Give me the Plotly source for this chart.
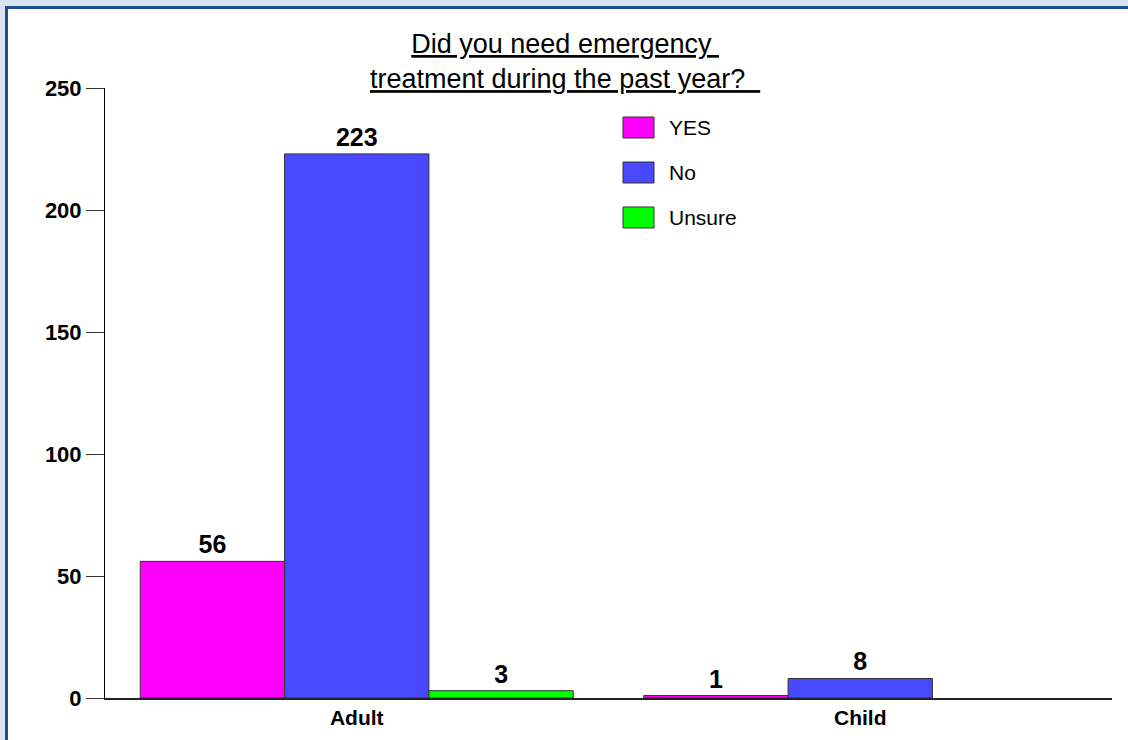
import plotly.graph_objects as go

# Survey answers by respondent type
categories = ["Adult", "Child"]
series_names = ["YES", "No", "Unsure"]
yes_counts = [56, 1]
no_counts = [223, 8]
unsure_counts = [3, None]
series_values = [yes_counts, no_counts, unsure_counts]
series_colors = ["#ff00ff", "#4848ff", "#00ff00"]

y_ticks = [0, 50, 100, 150, 200, 250]

FONT = "Arial, 'Liberation Sans', sans-serif"

# Plot-area geometry in pixels (used to place the frame and legend)
W, H = 1128, 740
L, R, T, B = 105, 16, 88, 42
PW, PH = W - L - R, H - T - B


def px_x(x):
    return (x - L) / PW


def px_y(y):
    return (H - B - y) / PH


fig = go.Figure()

for name, vals, color in zip(series_names, series_values, series_colors):
    fig.add_trace(go.Bar(
        x=categories,
        y=vals,
        name=name,
        marker=dict(color=color, line=dict(color="#333333", width=1)),
        texttemplate="%{y}",
        textposition="outside",
        textfont=dict(family=FONT, size=25, color="black", weight="bold"),
        cliponaxis=False,
        showlegend=False,
    ))

shapes = []
annotations = []

# Page frame: pale blue margin on the top and left, dark blue border line
PALE = "#dbe5f1"
EDGE = "#1f4e8a"
shapes.append(dict(type="rect", xref="paper", yref="paper", layer="below",
                   x0=px_x(-20), x1=px_x(1200), y0=px_y(6), y1=px_y(-20),
                   fillcolor=PALE, line=dict(width=0)))
shapes.append(dict(type="rect", xref="paper", yref="paper", layer="below",
                   x0=px_x(-20), x1=px_x(5), y0=px_y(800), y1=px_y(-20),
                   fillcolor=PALE, line=dict(width=0)))
shapes.append(dict(type="line", xref="paper", yref="paper", layer="below",
                   x0=px_x(5.5), x1=px_x(1200), y0=px_y(7.5), y1=px_y(7.5),
                   line=dict(color=EDGE, width=3)))
shapes.append(dict(type="line", xref="paper", yref="paper", layer="below",
                   x0=px_x(6.5), x1=px_x(6.5), y0=px_y(800), y1=px_y(6),
                   line=dict(color=EDGE, width=3)))

# Legend: swatches and labels
legend_rows = [127.5, 172.5, 217.5]
for name, color, yc in zip(series_names, series_colors, legend_rows):
    shapes.append(dict(
        type="rect", xref="paper", yref="paper",
        x0=px_x(623), x1=px_x(654), y0=px_y(yc + 10.5), y1=px_y(yc - 10.5),
        fillcolor=color, line=dict(color="#333333", width=1),
    ))
    annotations.append(dict(
        text=name, xref="paper", yref="paper",
        x=px_x(667), y=px_y(yc), xanchor="left", yanchor="middle",
        showarrow=False, font=dict(family=FONT, size=21, color="black"),
    ))

# Two-line underlined title
title_text = ("<u>Did you need emergency&nbsp;</u><br>"
              "<u>treatment during the past year?&nbsp;&nbsp;</u>")
annotations.append(dict(
    text=title_text, xref="paper", yref="paper",
    x=px_x(565), y=px_y(61), xanchor="center", yanchor="middle",
    showarrow=False, font=dict(family=FONT, size=27, color="black"),
))

fig.update_layout(
    width=W, height=H,
    margin=dict(l=L, r=R, t=T, b=B, pad=0),
    paper_bgcolor="white",
    plot_bgcolor="rgba(0,0,0,0)",
    barmode="group",
    bargap=0.14,
    bargroupgap=0,
    shapes=shapes,
    annotations=annotations,
    xaxis=dict(
        showgrid=False, zeroline=False,
        showline=True, linecolor="#222222", linewidth=1.5,
        ticks="", range=[-0.5, 1.5],
        tickfont=dict(family=FONT, size=21, color="black", weight="bold"),
    ),
    yaxis=dict(
        range=[0, 250], tickvals=y_ticks,
        showgrid=False, zeroline=False,
        showline=True, linecolor="black", linewidth=1,
        ticks="outside", ticklen=18, tickcolor="#333333", tickwidth=1,
        tickfont=dict(family=FONT, size=22, color="black", weight="bold"),
    ),
)

fig.write_html("out.html")
